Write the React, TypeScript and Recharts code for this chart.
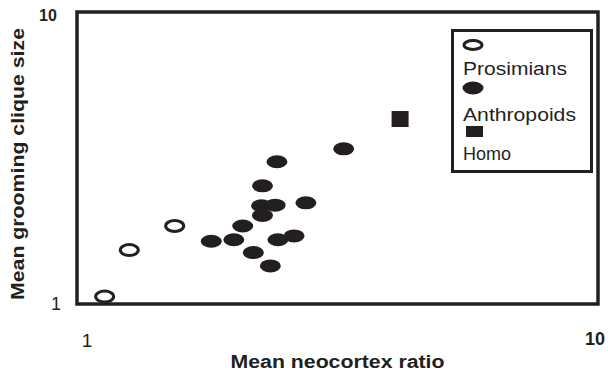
import React from 'react';
import {
  Label,
  ReferenceArea,
  Scatter,
  ScatterChart,
  XAxis,
  YAxis,
} from 'recharts';

// neocortex ratio vs grooming clique size
const prosimians = [
  { x: 1.13, y: 1.06 },
  { x: 1.26, y: 1.53 },
  { x: 1.54, y: 1.85 },
];

const anthropoids = [
  { x: 3.25, y: 3.4 },
  { x: 2.42, y: 3.07 },
  { x: 2.27, y: 2.54 },
  { x: 2.26, y: 2.17 },
  { x: 2.4, y: 2.18 },
  { x: 2.75, y: 2.22 },
  { x: 2.27, y: 2.01 },
  { x: 2.08, y: 1.85 },
  { x: 1.81, y: 1.64 },
  { x: 2.0, y: 1.66 },
  { x: 2.43, y: 1.66 },
  { x: 2.61, y: 1.71 },
  { x: 2.18, y: 1.5 },
  { x: 2.35, y: 1.35 },
];

const homo = [{ x: 4.17, y: 4.3 }];

const xTicks = [1, 10];
const yTicks = [1, 10];
const legendItems = ['Prosimians', 'Anthropoids', 'Homo'];

const INK = '#231f20';
const FONT = '"Liberation Sans", Arial, sans-serif';

const OpenDot = (props: any) => (
  <ellipse cx={props.cx} cy={props.cy} rx={9} ry={5.5} fill="#fff" stroke={INK} strokeWidth={3} />
);

const FilledDot = (props: any) => (
  <ellipse cx={props.cx} cy={props.cy} rx={10.5} ry={6.5} fill={INK} />
);

const SquareDot = (props: any) => (
  <rect x={props.cx - 8.5} y={props.cy - 8} width={17} height={16} fill={INK} />
);

const XTick = (props: any) => {
  const { x, y, payload } = props;
  const big = payload.value === 10;
  return (
    <text
      x={x + (big ? -13 : 10)}
      y={y + (big ? 41 : 43)}
      textAnchor={big ? 'start' : 'middle'}
      fontFamily={FONT}
      fontSize={big ? 18 : 19}
      fontWeight={big ? 'bold' : 'normal'}
      fill={INK}
    >
      {payload.value}
    </text>
  );
};

const YTick = (props: any) => {
  const { x, y, payload } = props;
  const big = payload.value === 10;
  return (
    <text
      x={x + (big ? -29 : -21)}
      y={y + (big ? 9 : 6)}
      textAnchor="middle"
      fontFamily={FONT}
      fontSize={big ? 16 : 18}
      fontWeight={big ? 'bold' : 'normal'}
      fill={INK}
    >
      {payload.value}
    </text>
  );
};

// legend box drawn as an overlay so it doesn't eat into the plot area
const LegendBox = () => (
  <svg width={142} height={144} style={{ position: 'absolute', left: 451, top: 29 }}>
    <rect x={1.5} y={1.5} width={139} height={141} fill="#fff" stroke={INK} strokeWidth={3} />
    <ellipse cx={22} cy={16} rx={9} ry={4.5} fill="#fff" stroke={INK} strokeWidth={3} />
    <text x={12} y={46} fontFamily={FONT} fontSize={18} fill={INK} textLength={104} lengthAdjust="spacingAndGlyphs">
      {legendItems[0]}
    </text>
    <ellipse cx={22} cy={59} rx={10.5} ry={6.5} fill={INK} />
    <text x={12} y={92} fontFamily={FONT} fontSize={18} fill={INK} textLength={113} lengthAdjust="spacingAndGlyphs">
      {legendItems[1]}
    </text>
    <rect x={15} y={97} width={17} height={11} fill={INK} />
    <text x={12} y={131} fontFamily={FONT} fontSize={18} fill={INK}>
      {legendItems[2]}
    </text>
  </svg>
);

export default function App() {
  return (
    <div style={{ position: 'absolute', left: 0, top: 0, width: 608, height: 375, background: '#fff' }}>
      <ScatterChart width={608} height={375} margin={{ top: 12, right: 10, bottom: 0, left: 0 }}>
        <XAxis
          type="number"
          dataKey="x"
          scale="log"
          domain={[1, 10]}
          ticks={xTicks}
          allowDataOverflow
          axisLine={false}
          tickLine={false}
          tickSize={0}
          tickMargin={0}
          height={71}
          tick={<XTick />}
        >
          <Label
            content={(p: any) => (
              <text
                x={p.viewBox.x + p.viewBox.width / 2}
                y={p.viewBox.y + 64}
                textAnchor="middle"
                fontFamily={FONT}
                fontSize={18}
                fontWeight="bold"
                fill={INK}
                textLength={214}
                lengthAdjust="spacingAndGlyphs"
              >
                Mean neocortex ratio
              </text>
            )}
          />
        </XAxis>
        <YAxis
          type="number"
          dataKey="y"
          scale="log"
          domain={[1, 10]}
          ticks={yTicks}
          allowDataOverflow
          axisLine={false}
          tickLine={false}
          tickSize={0}
          tickMargin={0}
          width={77}
          tick={<YTick />}
        >
          <Label
            content={(p: any) => {
              const cx = p.viewBox.x + 24;
              const cy = p.viewBox.y + p.viewBox.height / 2 + 6;
              return (
                <text
                  x={cx}
                  y={cy}
                  transform={`rotate(-90, ${cx}, ${cy})`}
                  textAnchor="middle"
                  fontFamily={FONT}
                  fontSize={18}
                  fontWeight="bold"
                  fill={INK}
                  textLength={272}
                  lengthAdjust="spacingAndGlyphs"
                >
                  Mean grooming clique size
                </text>
              );
            }}
          />
        </YAxis>
        <ReferenceArea
          x1={1}
          x2={10}
          y1={1}
          y2={10}
          fill="none"
          stroke={INK}
          strokeWidth={3.5}
          ifOverflow="visible"
        />
        <Scatter name="Prosimians" data={prosimians} shape={<OpenDot />} isAnimationActive={false} />
        <Scatter name="Anthropoids" data={anthropoids} shape={<FilledDot />} isAnimationActive={false} />
        <Scatter name="Homo" data={homo} shape={<SquareDot />} isAnimationActive={false} />
      </ScatterChart>
      <LegendBox />
    </div>
  );
}
